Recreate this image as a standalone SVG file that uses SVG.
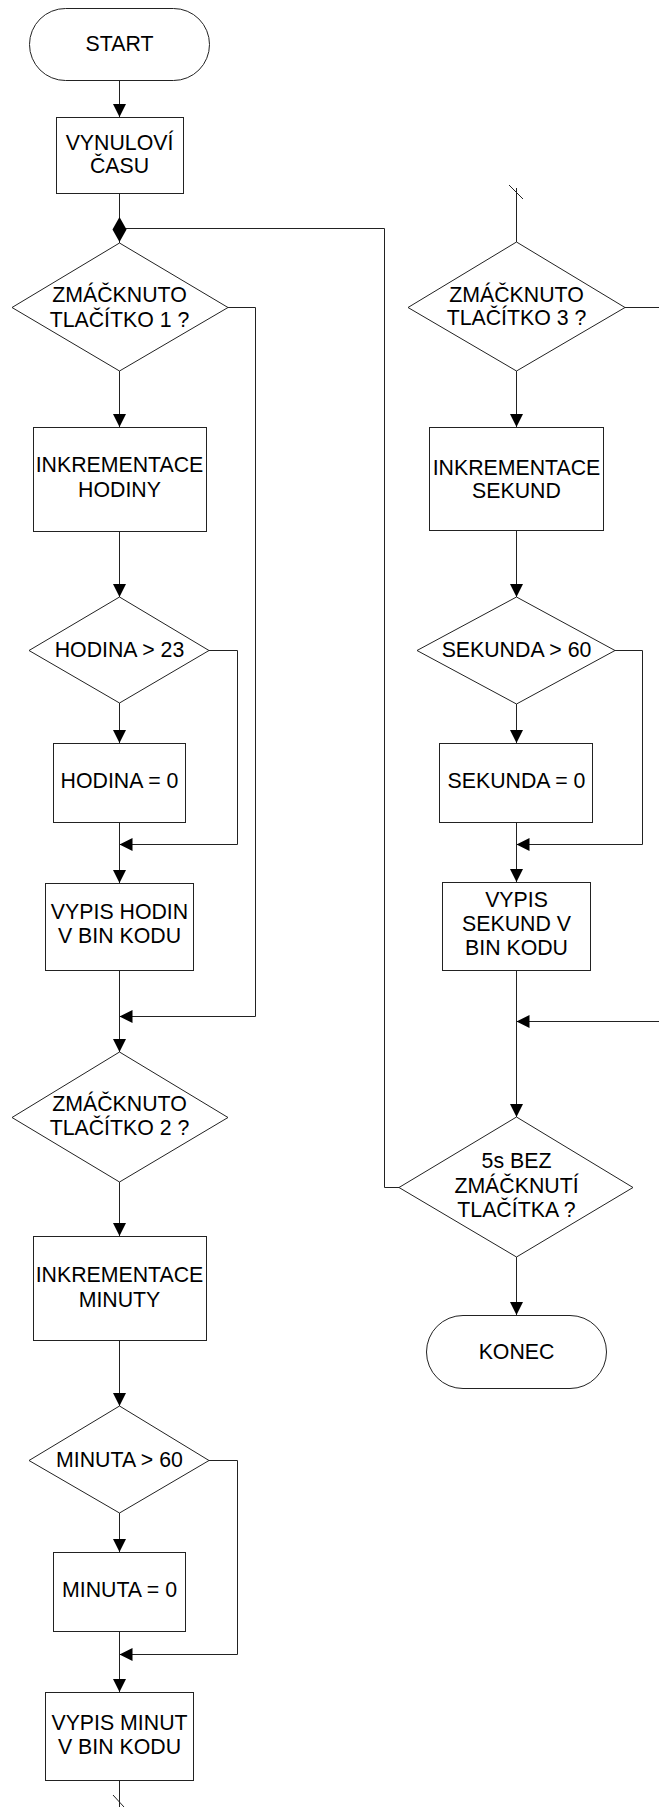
<svg xmlns="http://www.w3.org/2000/svg" width="659" height="1807" viewBox="0 0 659 1807">
<style>
.n{fill:#fff;stroke:#222;stroke-width:1}
.t{font-family:"Liberation Sans",Arial,sans-serif;font-size:21.3px;fill:#000;text-anchor:middle}
.c{fill:none;stroke:#222;stroke-width:1}
.a{marker-end:url(#ar)}
</style>
<defs>
<marker id="ar" markerUnits="userSpaceOnUse" markerWidth="14" markerHeight="14" refX="13" refY="6.5" orient="auto">
<path d="M0,0 L13,6.5 L0,13 z" fill="#000"/>
</marker>
</defs>
<rect width="659" height="1807" fill="#fff"/>
<g id="connectors">
<path class="c a" d="M119.5,80 V117"/>
<path class="c" d="M119.5,193 V243"/>
<path class="c" d="M399,1187.5 H384.5 V228.5 H119.5"/>
<polygon points="119.5,217 126.5,229.5 119.5,242 112.5,229.5" fill="#000"/>
<path class="c a" d="M119.5,371 V427"/>
<path class="c a" d="M228,307.5 H255.5 V1016.5 H119.5"/>
<path class="c a" d="M119.5,531 V597"/>
<path class="c a" d="M209,650.5 H237.5 V844.5 H119.5"/>
<path class="c a" d="M119.5,703 V743"/>
<path class="c a" d="M119.5,822 V883"/>
<path class="c a" d="M119.5,970 V1052"/>
<path class="c a" d="M119.5,1182 V1236"/>
<path class="c a" d="M119.5,1340 V1406"/>
<path class="c a" d="M209,1460.5 H237.5 V1654.5 H119.5"/>
<path class="c a" d="M119.5,1513 V1552"/>
<path class="c a" d="M119.5,1631 V1692"/>
<path class="c" d="M119.5,1780 V1807"/>
<path class="c" d="M113,1795 L124,1807"/>
<path class="c" d="M509,185 L523,199"/>
<path class="c" d="M516.5,188 V242"/>
<path class="c" d="M625,307.5 H659"/>
<path class="c a" d="M516.5,371 V427"/>
<path class="c a" d="M516.5,530 V597"/>
<path class="c a" d="M615,650.5 H642.5 V844.5 H516.5"/>
<path class="c a" d="M516.5,704 V743"/>
<path class="c a" d="M516.5,822 V882"/>
<path class="c a" d="M516.5,970 V1117"/>
<path class="c a" d="M659,1021.5 H516.5"/>
<path class="c a" d="M516.5,1257 V1315"/>
</g>
<g id="start"><rect class="n" x="29.5" y="8.5" width="180" height="72" rx="36"/><text class="t" x="119.5" y="51">START</text></g>
<g id="vynulovi"><rect class="n" x="56.5" y="117.5" width="127" height="76"/><text class="t" x="119.5" y="150">VYNULOVÍ</text><text class="t" x="119.5" y="173">ČASU</text></g>
<g id="d1"><polygon class="n" points="119.5,243 228,307.5 119.5,371 12,307.5"/><text class="t" x="119.5" y="302">ZMÁČKNUTO</text><text class="t" x="119.5" y="327">TLAČÍTKO 1 ?</text></g>
<g id="inkhod"><rect class="n" x="33.5" y="427.5" width="173" height="104"/><text class="t" x="119.5" y="472">INKREMENTACE</text><text class="t" x="119.5" y="497">HODINY</text></g>
<g id="dhod"><polygon class="n" points="119.5,597 209,650.5 119.5,703 29,650.5"/><text class="t" x="119.5" y="657">HODINA &gt; 23</text></g>
<g id="hod0"><rect class="n" x="53.5" y="743.5" width="132" height="79"/><text class="t" x="119.5" y="788">HODINA = 0</text></g>
<g id="vyphod"><rect class="n" x="45.5" y="883.5" width="148" height="87"/><text class="t" x="119.5" y="919">VYPIS HODIN</text><text class="t" x="119.5" y="943">V BIN KODU</text></g>
<g id="d2"><polygon class="n" points="119.5,1052 228,1117.5 119.5,1182 12,1117.5"/><text class="t" x="119.5" y="1111">ZMÁČKNUTO</text><text class="t" x="119.5" y="1135">TLAČÍTKO 2 ?</text></g>
<g id="inkmin"><rect class="n" x="33.5" y="1236.5" width="173" height="104"/><text class="t" x="119.5" y="1282">INKREMENTACE</text><text class="t" x="119.5" y="1307">MINUTY</text></g>
<g id="dmin"><polygon class="n" points="119.5,1406 209,1460.5 119.5,1513 29,1460.5"/><text class="t" x="119.5" y="1467">MINUTA &gt; 60</text></g>
<g id="min0"><rect class="n" x="53.5" y="1552.5" width="132" height="79"/><text class="t" x="119.5" y="1597">MINUTA = 0</text></g>
<g id="vypmin"><rect class="n" x="45.5" y="1692.5" width="148" height="88"/><text class="t" x="119.5" y="1730">VYPIS MINUT</text><text class="t" x="119.5" y="1754">V BIN KODU</text></g>
<g id="d3"><polygon class="n" points="516.5,242 625,307.5 516.5,371 408,307.5"/><text class="t" x="516.5" y="302">ZMÁČKNUTO</text><text class="t" x="516.5" y="325">TLAČÍTKO 3 ?</text></g>
<g id="inksek"><rect class="n" x="429.5" y="427.5" width="174" height="103"/><text class="t" x="516.5" y="475">INKREMENTACE</text><text class="t" x="516.5" y="498">SEKUND</text></g>
<g id="dsek"><polygon class="n" points="516.5,597 615,650.5 516.5,704 417,650.5"/><text class="t" x="516.5" y="657">SEKUNDA &gt; 60</text></g>
<g id="sek0"><rect class="n" x="439.5" y="743.5" width="153" height="79"/><text class="t" x="516.5" y="788">SEKUNDA = 0</text></g>
<g id="vypsek"><rect class="n" x="442.5" y="882.5" width="148" height="88"/><text class="t" x="516.5" y="907">VYPIS</text><text class="t" x="516.5" y="931">SEKUND V</text><text class="t" x="516.5" y="955">BIN KODU</text></g>
<g id="d5s"><polygon class="n" points="516.5,1117 633,1187.5 516.5,1257 399,1187.5"/><text class="t" x="516.5" y="1168">5s BEZ</text><text class="t" x="516.5" y="1193">ZMÁČKNUTÍ</text><text class="t" x="516.5" y="1217">TLAČÍTKA ?</text></g>
<g id="konec"><rect class="n" x="426.5" y="1315.5" width="180" height="73" rx="36.5"/><text class="t" x="516.5" y="1359">KONEC</text></g>
</svg>
